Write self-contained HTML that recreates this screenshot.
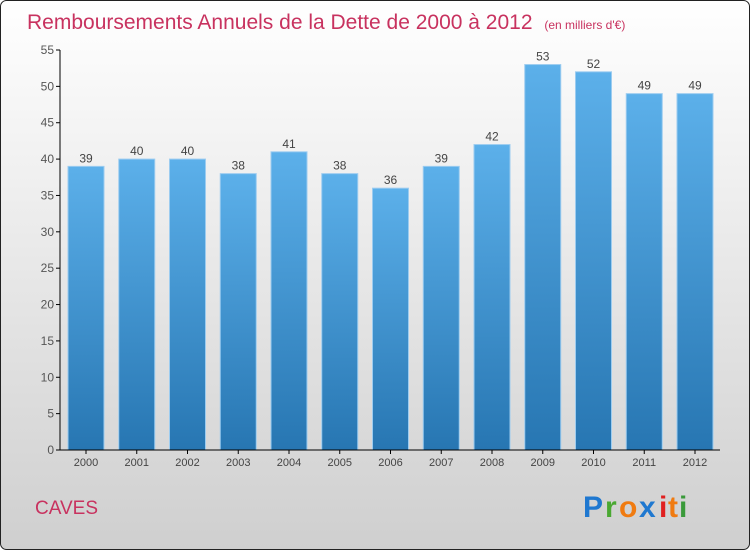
<!DOCTYPE html>
<html><head><meta charset="utf-8"><style>
body{margin:0}
svg text{font-family:"Liberation Sans",sans-serif}
</style></head><body>
<svg width="750" height="550" xmlns="http://www.w3.org/2000/svg">
<defs>
<linearGradient id="bg" x1="0" y1="0" x2="0" y2="1"><stop offset="0" stop-color="#ffffff"/><stop offset="1" stop-color="#cfcfcf"/></linearGradient>
<linearGradient id="bar" x1="0" y1="0" x2="0" y2="1"><stop offset="0" stop-color="#5cb0ea"/><stop offset="1" stop-color="#2776b2"/></linearGradient>
</defs>
<rect x="0.5" y="0.5" width="749" height="549" rx="6" fill="url(#bg)" stroke="#222"/>
<text x="27" y="29" font-size="21" fill="#c8325f">Remboursements Annuels de la Dette de 2000 à 2012 <tspan font-size="12" dx="6">(en milliers d'€)</tspan></text>
<g id="yaxis"></g>
<g id="bars"></g>
<line x1="60" y1="50" x2="60" y2="450" stroke="#000"/>
<line x1="60" y1="450" x2="720" y2="450" stroke="#000"/>
<text x="35" y="514" font-size="19" fill="#c8325f">CAVES</text>
<g font-size="30" font-family="Liberation Sans" font-weight="bold">
<text x="583" y="517" fill="#1f78d0">P</text><text x="605" y="517" fill="#4aa832">r</text><text x="619" y="517" fill="#f07b10">o</text><text x="639" y="517" fill="#1f78d0">x</text><text x="659" y="517" fill="#e02020">i</text><text x="668" y="517" fill="#f07b10">t</text><text x="679" y="517" fill="#3a9a3a">i</text>
</g>
<script>
const years=["2000","2001","2002","2003","2004","2005","2006","2007","2008","2009","2010","2011","2012"];
const values=[39,40,40,38,41,38,36,39,42,53,52,49,49];
const yTicks=[0,5,10,15,20,25,30,35,40,45,50,55];
const NS="http://www.w3.org/2000/svg";
const y=v=>450-v*400/55;
const x=i=>86+i*50.75;
const ya=document.getElementById('yaxis'),bg=document.getElementById('bars');
function mk(t,a,p){const e=document.createElementNS(NS,t);for(const k in a)e.setAttribute(k,a[k]);p.appendChild(e);return e;}
yTicks.forEach(v=>{
 const l=mk('line',{x1:56,x2:60,y1:y(v),y2:y(v),stroke:'#000'},ya);
 
 
 const t=mk('text',{x:54,y:y(v)+4,'text-anchor':'end','font-size':12,fill:'#555'},ya);
 t.textContent=v;
 
 
});
values.forEach((v,i)=>{
 const r=mk('rect',{x:x(i)-18,y:y(v),width:36,height:450-y(v),fill:'url(#bar)',stroke:'#9cccf0','stroke-width':1},bg);
 
 
 const t=mk('text',{x:x(i),y:y(v)-4,'text-anchor':'middle','font-size':12,fill:'#444'},bg);
 t.textContent=v;
 
 
 const k=mk('line',{x1:x(i),x2:x(i),y1:450,y2:454,stroke:'#000'},bg);
 
 
 const xl=mk('text',{x:x(i),y:466,'text-anchor':'middle','font-size':11,fill:'#444'},bg);
 xl.textContent=years[i];
 
 
});
</script>
</svg>
</body></html>
